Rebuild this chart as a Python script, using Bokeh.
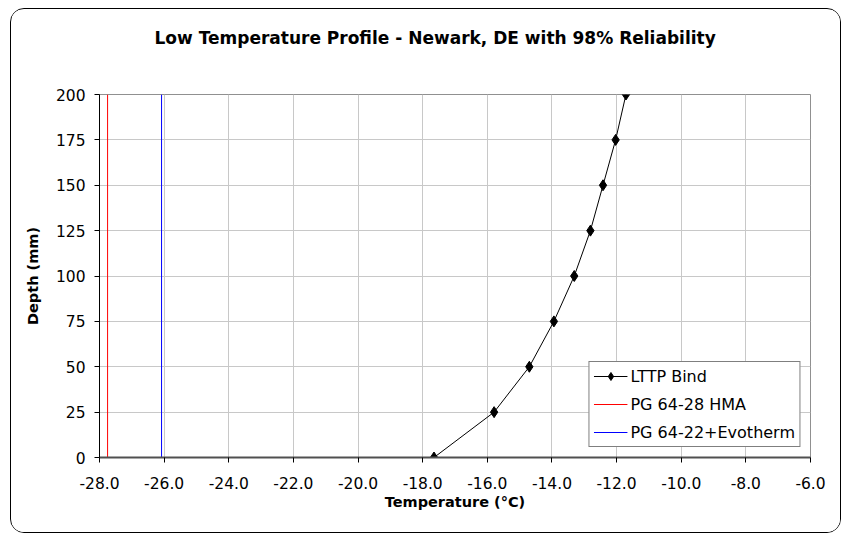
from bokeh.plotting import figure
from bokeh.models import Range1d, FixedTicker, CustomJSTickFormatter, Legend, LegendItem
from bokeh.embed import file_html
from bokeh.resources import INLINE

# Data
depth_mm = [0, 25, 50, 75, 100, 125, 150, 175, 200]
lttp_temp = [-17.65, -15.79, -14.70, -13.94, -13.31, -12.81, -12.42, -12.03, -11.71]
pg6428_temp = -27.75
pg6422_temp = -26.08
x_ticks = [-28, -26, -24, -22, -20, -18, -16, -14, -12, -10, -8, -6]
y_ticks = [0, 25, 50, 75, 100, 125, 150, 175, 200]
title_text = "Low Temperature Profile -  Newark, DE with 98% Reliability"

FONT = "DejaVu Sans"

p = figure(width=831, height=525, output_backend="svg", toolbar_location=None,
           x_range=Range1d(-28, -6), y_range=Range1d(0, 200),
           min_border_left=88, min_border_right=32, min_border_top=85, min_border_bottom=77)
p.styles = {"margin-left": "10px", "margin-top": "8px", "border": "1px solid black",
            "border-radius": "14px", "overflow": "hidden"}

p.title.text = title_text
p.title.align = "left"
p.title.offset = 55
p.title.standoff = 4
p.title.padding = dict(left=0, right=0, top=0, bottom=45)
p.title.text_font = FONT
p.title.text_font_size = "17px"
p.title.text_font_style = "bold"
p.title.text_color = "black"

p.background_fill_color = "white"
p.border_fill_color = "white"
p.outline_line_color = "#909090"
p.outline_line_width = 1

p.xgrid.grid_line_color = "#c8c8c8"
p.ygrid.grid_line_color = "#c8c8c8"
p.xaxis.ticker = FixedTicker(ticks=x_ticks)
p.yaxis.ticker = FixedTicker(ticks=y_ticks)
p.xgrid.ticker = FixedTicker(ticks=x_ticks)
p.ygrid.ticker = FixedTicker(ticks=y_ticks)
p.xaxis.formatter = CustomJSTickFormatter(code="return tick.toFixed(1);")

for ax in (p.xaxis[0], p.yaxis[0]):
    ax.major_label_text_font = FONT
    ax.major_label_text_font_size = "15.5px"
    ax.major_label_text_color = "black"
    ax.axis_label_text_font = FONT
    ax.axis_label_text_font_size = "14.5px"
    ax.axis_label_text_font_style = "bold"
    ax.axis_label_text_color = "black"
    ax.major_tick_in = 0
    ax.major_tick_out = 5
    ax.minor_tick_in = 0
    ax.minor_tick_out = 0
    ax.major_tick_line_color = "black"

p.xaxis.axis_label = "Temperature (°C)"
p.yaxis.axis_label = "Depth (mm)"
p.xaxis.axis_line_color = "#505050"
p.xaxis.axis_line_width = 2
p.yaxis.axis_line_color = "black"
p.xaxis.major_label_standoff = 14
p.yaxis.major_label_standoff = 9
p.xaxis.axis_label_standoff = 2
p.yaxis.axis_label_standoff = 12

r1 = p.line(lttp_temp, depth_mm, line_color="black", line_width=1)
r1m = p.scatter(lttp_temp, depth_mm, marker="diamond", size=11, fill_color="black", line_color="black")
r2 = p.line([pg6428_temp, pg6428_temp], [y_ticks[0], y_ticks[-1]], line_color="#ff0000", line_width=1)
r3 = p.line([pg6422_temp, pg6422_temp], [y_ticks[0], y_ticks[-1]], line_color="#0000ff", line_width=1)

legend = Legend(items=[
    LegendItem(label="LTTP Bind", renderers=[r1, r1m]),
    LegendItem(label="PG 64-28 HMA", renderers=[r2]),
    LegendItem(label="PG 64-22+Evotherm", renderers=[r3]),
], location="bottom_right")
legend.label_text_font = FONT
legend.label_text_font_size = "16px"
legend.label_text_color = "black"
legend.border_line_color = "black"
legend.border_line_width = 1
legend.background_fill_color = "white"
legend.background_fill_alpha = 1
legend.glyph_width = 34
legend.glyph_height = 20
legend.label_height = 20
legend.spacing = 8
legend.padding = 4
legend.margin = 10
legend.label_standoff = 3
p.add_layout(legend)

open("out.html", "w").write(file_html(p, INLINE))
